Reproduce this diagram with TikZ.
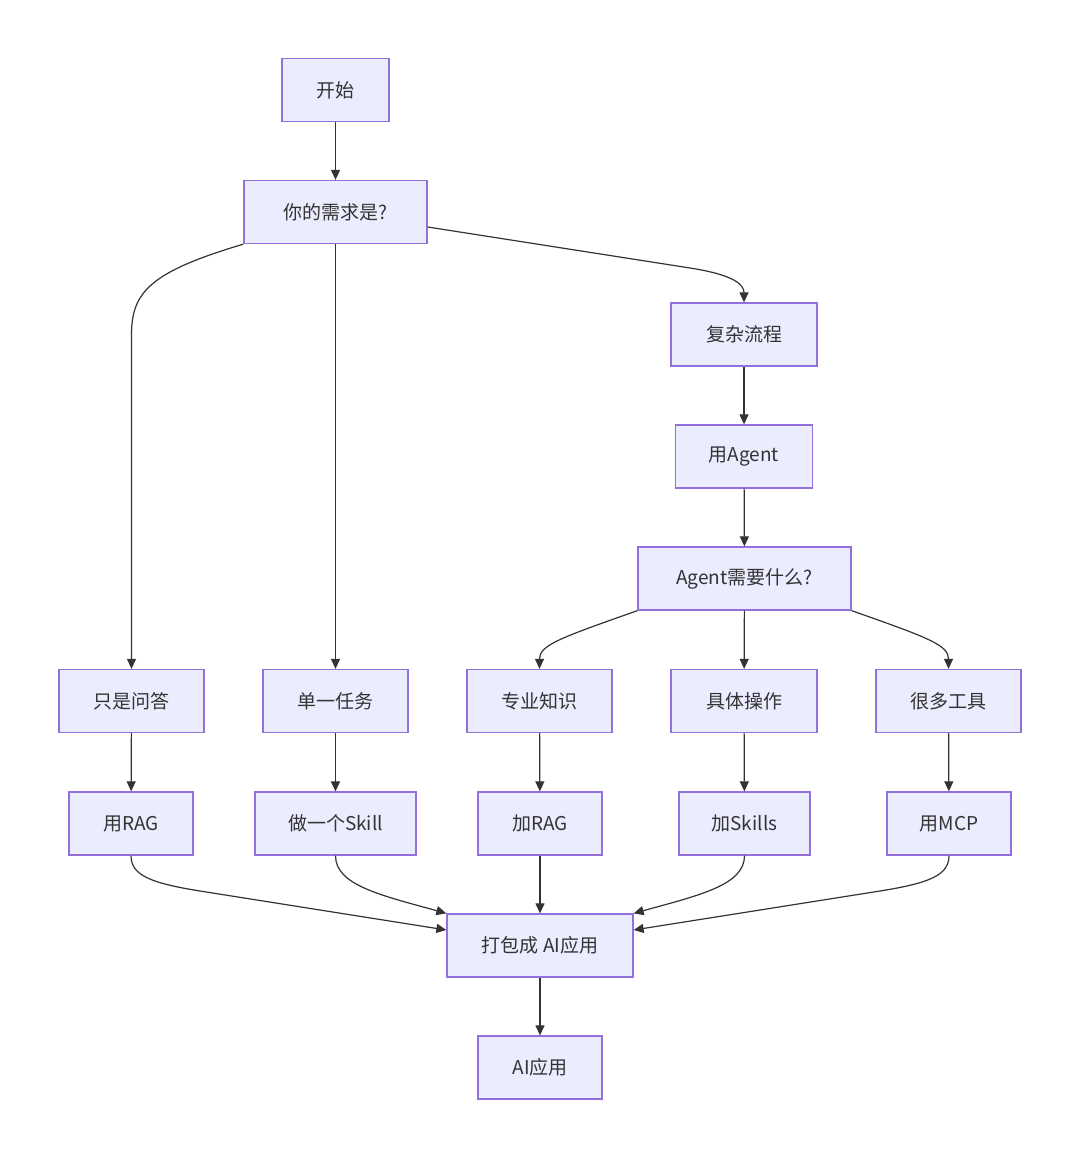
\documentclass[tikz,border=0pt]{standalone}
\usepackage{fontspec}
\setmainfont{Noto Sans CJK SC}
\usetikzlibrary{arrows.meta}
\definecolor{boxfill}{HTML}{ECECFF}
\definecolor{boxline}{HTML}{9370DB}
\definecolor{edgecol}{HTML}{333333}
\begin{document}
\begin{tikzpicture}[x=1pt,y=-1pt,
  box/.style={draw=boxline,fill=boxfill,line width=1.3pt,minimum height=63pt,inner sep=0pt,
    font=\fontsize{19}{21}\selectfont,text=edgecol},
  edge/.style={draw=edgecol,line width=1.2pt,-{Triangle[length=10pt,width=9pt]}}]
\useasboundingbox[fill=white] (0,0) rectangle (1080,1158);
\node[box,minimum width=107pt] (start) at (335.5,90) {开始};
\node[box,minimum width=183pt] (need) at (335.5,212) {你的需求是?};
\node[box,minimum width=146pt] (cplx) at (744,334.5) {复杂流程};
\node[box,minimum width=137pt] (agent) at (744,456.5) {用Agent};
\node[box,minimum width=213pt] (what) at (744.5,578.5) {Agent需要什么?};
\node[box,minimum width=145pt] (qa) at (131.5,701) {只是问答};
\node[box,minimum width=145pt] (single) at (335.5,701) {单一任务};
\node[box,minimum width=145pt] (know) at (539.5,701) {专业知识};
\node[box,minimum width=146pt] (op) at (744,701) {具体操作};
\node[box,minimum width=145pt] (tools) at (948.5,701) {很多工具};
\node[box,minimum width=124pt] (rag) at (131,823.5) {用RAG};
\node[box,minimum width=161pt] (skill) at (335.5,823.5) {做一个Skill};
\node[box,minimum width=124pt] (addrag) at (540,823.5) {加RAG};
\node[box,minimum width=131pt] (addsk) at (744.5,823.5) {加Skills};
\node[box,minimum width=124pt] (mcp) at (949,823.5) {用MCP};
\node[box,minimum width=186pt] (pack) at (540,945.5) {打包成 AI应用};
\node[box,minimum width=124pt] (app) at (540,1067.5) {AI应用};
% edges
\draw[edge] (start) -- (need);
\draw[edge] (need.south west) .. controls (150,272) and (131.5,292) .. (131.5,335) -- (qa.north);
\draw[edge] (need) -- (single);
\draw[edge] (need.east) ++(0,15) -- (690,268) .. controls (735,275) and (744,285) .. (cplx.north);
\draw[edge] (cplx) -- (agent);
\draw[edge] (agent) -- (what);
\draw[edge] (what.south west) .. controls (560,638) and (539.5,645) .. (know.north);
\draw[edge] (what) -- (op);
\draw[edge] (what.south east) .. controls (929,638) and (948.5,645) .. (tools.north);
\draw[edge] (qa) -- (rag);
\draw[edge] (single) -- (skill);
\draw[edge] (know) -- (addrag);
\draw[edge] (op) -- (addsk);
\draw[edge] (tools) -- (mcp);
\draw[edge] (rag.south) .. controls (131,875) and (150,883) .. (200,891) -- (pack.west |- 0,930);
\draw[edge] (skill.south) .. controls (335.5,885) and (380,895) .. (pack.north west);
\draw[edge] (addrag) -- (pack);
\draw[edge] (addsk.south) .. controls (744.5,885) and (700,895) .. (pack.north east);
\draw[edge] (mcp.south) .. controls (949,875) and (930,883) .. (880,891) -- (pack.east |- 0,930);
\draw[edge] (pack) -- (app);
\end{tikzpicture}
\end{document}
